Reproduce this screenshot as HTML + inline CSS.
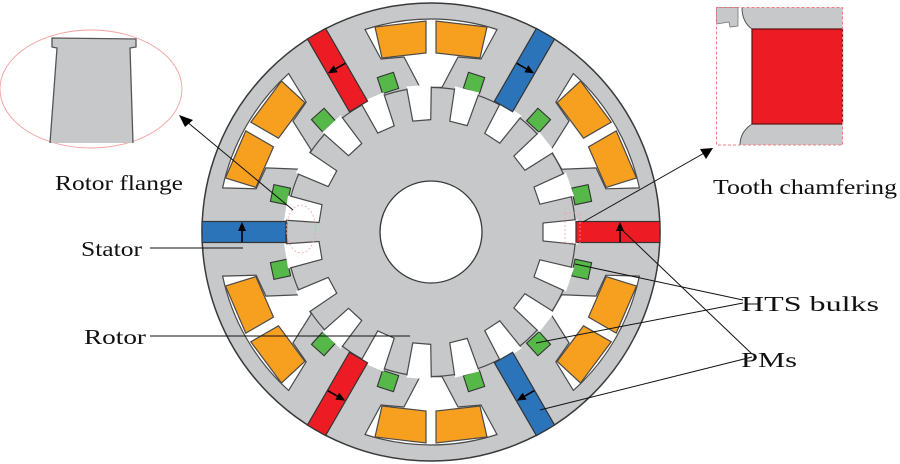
<!DOCTYPE html>
<html><head><meta charset="utf-8"><style>
html,body{margin:0;padding:0;background:#fff;}
svg{display:block;}
text{font-family:"Liberation Serif",serif;font-size:21px;fill:#111;}
</style></head><body>
<svg width="900" height="464" viewBox="0 0 900 464" xmlns="http://www.w3.org/2000/svg">
<defs>
  <g id="slot">
    <path d="M -66,-202.5 A 213 213 0 0 1 66,-202.5 L 50,-173 L 27,-175 L 11,-144.6 L -11,-144.6 L -27,-175 L -50,-173 Z" fill="#fff" stroke="#4a4a4a" stroke-width="1.2"/>
    <polygon points="-56,-205 -5,-211 -5,-179 -49,-174" fill="#f7a020" stroke="#4a4a4a" stroke-width="1.2"/>
    <polygon points="56,-205 5,-211 5,-179 49,-174" fill="#f7a020" stroke="#4a4a4a" stroke-width="1.2"/>
    <rect x="-51.5" y="-157.5" width="17" height="17" transform="rotate(-18 -43 -149)" fill="#56b848" stroke="#333" stroke-width="1.1"/>
    <rect x="34.5" y="-157.5" width="17" height="17" transform="rotate(18 43 -149)" fill="#56b848" stroke="#333" stroke-width="1.1"/>
  </g>
  <g id="rslot">
    <polygon points="112,-9 147,-12.5 147,12.5 112,9" fill="#fff"/>
    <polyline points="145,-12.3 112,-9 112,9 145,12.3" fill="none" stroke="#4a4a4a" stroke-width="1.2"/>
  </g>
  <g id="pmred">
    <rect x="145" y="-10.5" width="84" height="21" fill="#ed1c24" stroke="#333" stroke-width="1.2"/>
    <line x1="189" y1="10" x2="189" y2="-2" stroke="#000" stroke-width="1.6"/>
    <polygon points="189,-10 185,-1 193,-1" fill="#000"/>
  </g>
  <g id="pmblue">
    <rect x="145" y="-10.5" width="84" height="21" fill="#2b74b9" stroke="#333" stroke-width="1.2"/>
    <line x1="189" y1="-10" x2="189" y2="2" stroke="#000" stroke-width="1.6"/>
    <polygon points="189,10 185,1 193,1" fill="#000"/>
  </g>
</defs>

<g transform="translate(431,232)">
  <circle r="229" fill="#c7c8ca" stroke="#3a3a3a" stroke-width="1.5"/>
  <use href="#slot" transform="rotate(0)"/>
  <use href="#slot" transform="rotate(60)"/>
  <use href="#slot" transform="rotate(120)"/>
  <use href="#slot" transform="rotate(180)"/>
  <use href="#slot" transform="rotate(240)"/>
  <use href="#slot" transform="rotate(300)"/>
  <circle r="144.5" fill="#c7c8ca" stroke="#4a4a4a" stroke-width="1.2"/>
  <use href="#rslot" transform="rotate(0)"/>
  <use href="#rslot" transform="rotate(18.947)"/>
  <use href="#rslot" transform="rotate(37.895)"/>
  <use href="#rslot" transform="rotate(56.842)"/>
  <use href="#rslot" transform="rotate(75.789)"/>
  <use href="#rslot" transform="rotate(94.737)"/>
  <use href="#rslot" transform="rotate(113.684)"/>
  <use href="#rslot" transform="rotate(132.632)"/>
  <use href="#rslot" transform="rotate(151.579)"/>
  <use href="#rslot" transform="rotate(170.526)"/>
  <use href="#rslot" transform="rotate(189.474)"/>
  <use href="#rslot" transform="rotate(208.421)"/>
  <use href="#rslot" transform="rotate(227.368)"/>
  <use href="#rslot" transform="rotate(246.316)"/>
  <use href="#rslot" transform="rotate(265.263)"/>
  <use href="#rslot" transform="rotate(284.211)"/>
  <use href="#rslot" transform="rotate(303.158)"/>
  <use href="#rslot" transform="rotate(322.105)"/>
  <use href="#rslot" transform="rotate(341.053)"/>
  <circle r="51" fill="#fff" stroke="#3a3a3a" stroke-width="1.3"/>
  <use href="#pmred" transform="rotate(0)"/>
  <use href="#pmred" transform="rotate(120)"/>
  <use href="#pmred" transform="rotate(240)"/>
  <use href="#pmblue" transform="rotate(60)"/>
  <use href="#pmblue" transform="rotate(180)"/>
  <use href="#pmblue" transform="rotate(300)"/>
</g>

<!-- small red markers -->
<ellipse cx="301" cy="229" rx="14.5" ry="24" fill="none" stroke="#f4a0a0" stroke-width="0.8" stroke-dasharray="2,2"/>
<rect x="565" y="213" width="15" height="30" fill="none" stroke="#f4a0a0" stroke-width="0.8" stroke-dasharray="2,2"/>

<!-- inset 1: rotor flange -->
<ellipse cx="91" cy="89" rx="91" ry="59" fill="#fff" stroke="#f4a0a0" stroke-width="0.9"/>
<path d="M 52,38 L 136,39 L 136,47 L 130,48 L 133,143 L 50,143 L 57,48 L 52,47 Z" fill="#c7c8ca"/>
<path d="M 50,143 L 57,48 L 52,47 L 52,38 L 136,39 L 136,47 L 130,48 L 133,143" fill="none" stroke="#555" stroke-width="1.3"/>

<!-- inset 2: tooth chamfering -->
<rect x="716.5" y="7.5" width="126" height="137.5" fill="#fff"/>
<path d="M 742,7.5 L 842.5,7.5 L 842.5,29 L 752,29 Q 742,22 742,7.5 Z" fill="#c7c8ca"/>
<path d="M 716.5,7.5 L 738,7.5 L 738,26 L 730,27 L 729,22 L 716.5,24 Z" fill="#c7c8ca" stroke="#777" stroke-width="0.8"/>
<path d="M 740,145 Q 740,132 752,124 L 842.5,124 L 842.5,145 Z" fill="#c7c8ca"/>
<rect x="752" y="29" width="90.5" height="95" fill="#ed1c24" stroke="#5a1010" stroke-width="1.2"/>
<path d="M 742,7.5 Q 742,22 752,29 M 740,145 Q 740,132 752,124" fill="none" stroke="#555" stroke-width="1"/>
<rect x="716.5" y="7.5" width="126" height="137.5" fill="none" stroke="#f08080" stroke-width="1" stroke-dasharray="3,2"/>

<!-- leader lines -->
<g stroke="#111" stroke-width="1" fill="none">
  <line x1="293" y1="210" x2="186" y2="121"/>
  <line x1="583" y1="222" x2="706" y2="152"/>
  <line x1="150" y1="248" x2="243" y2="248"/>
  <line x1="150" y1="336" x2="410" y2="336"/>
  <line x1="743" y1="300" x2="575" y2="264"/>
  <line x1="743" y1="303" x2="536" y2="343"/>
  <line x1="752" y1="354" x2="620" y2="228"/>
  <line x1="752" y1="357" x2="540" y2="410"/>
</g>
<polygon points="179,115 193,120 185,127" fill="#000"/>
<polygon points="713,148 700,149 706,159" fill="#000"/>

<!-- labels -->
<text x="55" y="190" textLength="128" lengthAdjust="spacingAndGlyphs">Rotor flange</text>
<text x="713" y="194" textLength="184" lengthAdjust="spacingAndGlyphs">Tooth chamfering</text>
<text x="81" y="256" textLength="61" lengthAdjust="spacingAndGlyphs">Stator</text>
<text x="84" y="344" textLength="62" lengthAdjust="spacingAndGlyphs">Rotor</text>
<text x="741" y="311" textLength="138" lengthAdjust="spacingAndGlyphs">HTS bulks</text>
<text x="741" y="367" textLength="56" lengthAdjust="spacingAndGlyphs">PMs</text>
</svg>
</body></html>
